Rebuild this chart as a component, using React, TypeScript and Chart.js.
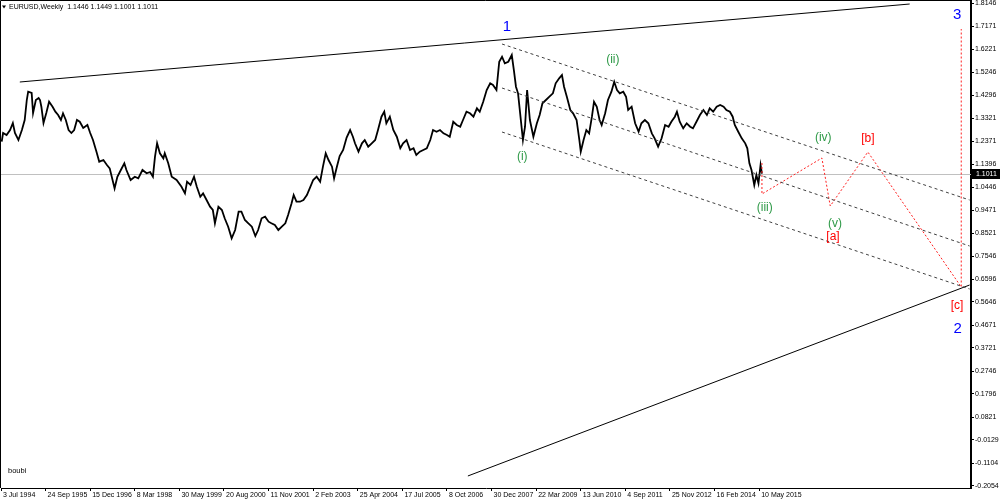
import React, { useEffect, useRef } from 'react';
import { Chart, registerables } from 'chart.js';

Chart.register(...registerables);

// ---------- header / meta ----------
const SYMBOL = 'EURUSD,Weekly';
const LAST_OHLC = [1.1446, 1.1449, 1.1001, 1.1011];
const AUTHOR = 'boubi';

// ---------- axes ----------
const X_MIN_WEEK = 0;
const X_MAX_WEEK = 1392;
const X_TICK_WEEKS = [0, 64, 128, 192, 256, 320, 384, 448, 512, 576, 640, 704, 768, 832, 896, 960, 1024, 1088];
const X_TICK_LABELS = [
  '3 Jul 1994', '24 Sep 1995', '15 Dec 1996', '8 Mar 1998', '30 May 1999', '20 Aug 2000',
  '11 Nov 2001', '2 Feb 2003', '25 Apr 2004', '17 Jul 2005', '8 Oct 2006', '30 Dec 2007',
  '22 Mar 2009', '13 Jun 2010', '4 Sep 2011', '25 Nov 2012', '16 Feb 2014', '10 May 2015',
];
const Y_MIN = -0.2138;
const Y_MAX = 1.823;
const Y_TICKS = [
  1.8146, 1.7171, 1.6221, 1.5246, 1.4296, 1.3321, 1.2371, 1.1396, 1.0446, 0.9471, 0.8521,
  0.7546, 0.6596, 0.5646, 0.4671, 0.3721, 0.2746, 0.1796, 0.0821, -0.0129, -0.1104, -0.2054,
];

// ---------- price series (weeks since 3 Jul 1994, price) ----------
const PRICE_WEEKS = [
  1, 3, 8, 13, 17, 20, 25, 30, 34, 37,
  39, 44, 46, 50, 54, 56, 58, 61, 65, 69,
  74, 78, 82, 86, 89, 93, 97, 101, 105, 109,
  113, 118, 124, 128, 132, 137, 141, 147, 152, 156,
  163, 167, 172, 177, 180, 186, 192, 197, 203, 209,
  214, 218, 221, 224, 228, 233, 235, 240, 245, 252,
  259, 264, 267, 272, 277, 281, 286, 290, 295, 300,
  304, 307, 312, 317, 321, 326, 331, 336, 341, 345,
  350, 355, 360, 365, 369, 374, 379, 384, 388, 393,
  398, 403, 408, 412, 417, 420, 424, 429, 434, 439,
  443, 448, 453, 458, 462, 466, 470, 475, 478, 482,
  486, 491, 496, 501, 505, 508, 513, 518, 522, 527,
  532, 537, 541, 546, 550, 553, 558, 563, 568, 573,
  577, 582, 587, 592, 596, 601, 606, 611, 616, 620,
  625, 630, 635, 640, 644, 649, 654, 659, 663, 668,
  673, 678, 683, 687, 692, 697, 702, 706, 711, 715,
  719, 723, 728, 733, 736, 739, 742, 745, 749, 752,
  755, 759, 764, 769, 773, 777, 782, 787, 792, 796,
  801, 805, 808, 812, 817, 821, 826, 830, 832, 836,
  840, 844, 848, 851, 855, 859, 862, 867, 871, 876,
  880, 884, 888, 893, 897, 900, 905, 910, 915, 919,
  924, 929, 934, 938, 943, 948, 953, 958, 962, 967,
  970, 974, 979, 984, 989, 993, 998, 1003, 1008, 1013,
  1017, 1022, 1027, 1032, 1037, 1041, 1046, 1050, 1053, 1058,
  1063, 1068, 1071, 1074, 1077, 1081, 1084, 1087, 1090, 1092,
];
const PRICE_CLOSE = [
  1.2345, 1.2709, 1.2625, 1.2834, 1.3127, 1.2709, 1.2416, 1.2834, 1.3253, 1.4089,
  1.4436, 1.4382, 1.3545, 1.4089, 1.4173, 1.4089, 1.3796, 1.3127, 1.3545, 1.4018,
  1.3809, 1.36, 1.3462, 1.3253, 1.3533, 1.3253, 1.2834, 1.2709, 1.2834, 1.3253,
  1.3181, 1.2918, 1.3043, 1.2709, 1.2416, 1.1927, 1.1509, 1.158, 1.1371, 1.1233,
  1.0396, 1.0881, 1.1162, 1.1442, 1.1162, 1.0743, 1.0881, 1.0814, 1.1162, 1.1024,
  1.1078, 1.0881, 1.1718, 1.2278, 1.186, 1.1651, 1.186, 1.1442, 1.0881, 1.0743,
  1.0463, 1.0187, 1.0672, 1.0534, 1.0881, 1.0463, 1.0045, 1.0187, 0.9907, 0.9627,
  0.9489, 0.8933, 0.9627, 0.9489, 0.9142, 0.879, 0.8305, 0.8652, 0.9418, 0.9418,
  0.9071, 0.8933, 0.879, 0.8401, 0.8652, 0.9142, 0.9209, 0.9, 0.8933, 0.8861,
  0.8652, 0.879, 0.8933, 0.928, 0.9769, 1.0116, 0.9836, 0.9836, 0.9907, 1.0116,
  1.0396, 1.0743, 1.0881, 1.0672, 1.13, 1.186, 1.158, 1.13, 1.0814, 1.13,
  1.1747, 1.1998, 1.2521, 1.2834, 1.2554, 1.2278, 1.1927, 1.2278, 1.2416, 1.2136,
  1.2278, 1.2416, 1.2834, 1.3391, 1.36, 1.3115, 1.3391, 1.2834, 1.2554, 1.2069,
  1.2278, 1.2416, 1.1998, 1.2069, 1.1789, 1.1927, 1.1998, 1.2069, 1.2416, 1.2834,
  1.2763, 1.2834, 1.2696, 1.2625, 1.2554, 1.3181, 1.3043, 1.2972, 1.3253, 1.36,
  1.3533, 1.3391, 1.3742, 1.36, 1.4018, 1.4507, 1.4787, 1.4716, 1.4507, 1.5691,
  1.59, 1.5624, 1.5691, 1.5971, 1.5344, 1.4645, 1.4369, 1.3533, 1.2416, 1.2972,
  1.4507, 1.3253, 1.2554, 1.3115, 1.3462, 1.3951, 1.4089, 1.4227, 1.4369, 1.4787,
  1.4997, 1.5134, 1.4645, 1.4227, 1.3671, 1.3533, 1.3253, 1.2416, 1.1927, 1.2416,
  1.2834, 1.2696, 1.3391, 1.4018, 1.3809, 1.3253, 1.3043, 1.3533, 1.4089, 1.4436,
  1.4854, 1.4507, 1.4369, 1.4436, 1.4227, 1.3671, 1.3809, 1.3115, 1.2763, 1.3115,
  1.3253, 1.3115, 1.2696, 1.2487, 1.2136, 1.2487, 1.3043, 1.2972, 1.3181, 1.3391,
  1.36, 1.3181, 1.2906, 1.3115, 1.2972, 1.2906, 1.3181, 1.3462, 1.3671, 1.3462,
  1.3742, 1.36, 1.3809, 1.388, 1.3809, 1.3671, 1.36, 1.3391, 1.3043, 1.2763,
  1.2487, 1.2278, 1.2069, 1.1442, 1.1162, 1.0534, 1.0952, 1.0605, 1.1371, 1.1011,
];

// ---------- drawn objects ----------
const TREND_TOP_WEEKS = [27, 1304];
const TREND_TOP_PRICES = [1.4842, 1.8104];
const TREND_BOTTOM_WEEKS = [670, 1390];
const TREND_BOTTOM_PRICES = [-0.1635, 0.6352];
const CHANNEL_WEEKS = [719, 1390];
const CHANNEL_UPPER = [1.6431, 0.9907];
const CHANNEL_MIDDLE = [1.4591, 0.7983];
const CHANNEL_LOWER = [1.2751, 0.6185];
const PROJ_WEEKS = [1092, 1092, 1178, 1190, 1244, 1378, 1378];
const PROJ_PRICES = [1.1454, 1.0158, 1.1663, 0.9656, 1.1914, 0.6269, 1.7058];

// ---------- wave labels ----------
const WAVE_LABELS = ['1', '2', '3', '(i)', '(ii)', '(iii)', '(iv)', '(v)', '[a]', '[b]', '[c]'];
const WAVE_DEGREES = ['primary', 'primary', 'primary', 'minor', 'minor', 'minor', 'minor', 'minor', 'minute', 'minute', 'minute'];
const WAVE_WEEKS = [726, 1373, 1372, 748, 878, 1096, 1180, 1197, 1194, 1244, 1372];
const WAVE_PRICES = [1.7142, 0.4512, 1.7644, 1.1705, 1.5762, 0.9572, 1.25, 0.8903, 0.836, 1.2458, 0.5474];

const DEGREE_STYLE: Record<string, { color: string; font: string }> = {
  primary: { color: '#0000ff', font: '15px "Liberation Sans", Arial, sans-serif' },
  minor: { color: '#2f9a48', font: '12px "Liberation Sans", Arial, sans-serif' },
  minute: { color: '#ff0000', font: '12px "Liberation Sans", Arial, sans-serif' },
};

const AXIS_FONT = { family: '"Liberation Sans", Arial, sans-serif', size: 7 };

function pts(weeks: number[], prices: number[]) {
  return weeks.map((w, i) => ({ x: w, y: prices[i] }));
}

export default function App() {
  const ref = useRef<HTMLCanvasElement>(null);

  useEffect(() => {
    const canvas = ref.current;
    if (!canvas) return;

    const overlay = {
      id: 'mt4overlay',
      beforeDatasetsDraw(chart: any) {
        const { ctx, chartArea, scales } = chart;
        const yp = Math.round(scales.y.getPixelForValue(LAST_OHLC[3])) + 0.5;
        ctx.save();
        ctx.strokeStyle = '#c0c0c0';
        ctx.lineWidth = 1;
        ctx.beginPath();
        ctx.moveTo(chartArea.left, yp);
        ctx.lineTo(chartArea.right, yp);
        ctx.stroke();
        ctx.restore();
      },
      afterDraw(chart: any) {
        const { ctx, chartArea, scales } = chart;
        ctx.save();
        // frame top/left
        ctx.strokeStyle = '#000';
        ctx.lineWidth = 1;
        ctx.beginPath();
        ctx.moveTo(0.5, chartArea.bottom);
        ctx.lineTo(0.5, 0.5);
        ctx.lineTo(chartArea.right, 0.5);
        ctx.stroke();

        // wave labels
        ctx.textAlign = 'center';
        ctx.textBaseline = 'middle';
        WAVE_LABELS.forEach((t, i) => {
          const st = DEGREE_STYLE[WAVE_DEGREES[i]];
          ctx.fillStyle = st.color;
          ctx.font = st.font;
          ctx.fillText(t, scales.x.getPixelForValue(WAVE_WEEKS[i]), scales.y.getPixelForValue(WAVE_PRICES[i]));
        });

        // header
        ctx.fillStyle = '#000';
        ctx.beginPath();
        ctx.moveTo(2, 5.5);
        ctx.lineTo(6, 5.5);
        ctx.lineTo(4, 8.5);
        ctx.closePath();
        ctx.fill();
        ctx.font = '7px "Liberation Sans", Arial, sans-serif';
        ctx.textAlign = 'left';
        ctx.textBaseline = 'middle';
        ctx.fillText(SYMBOL + '  ' + LAST_OHLC.map((v) => v.toFixed(4)).join(' '), 9, 7.5);

        // author
        ctx.font = '7.5px "Liberation Sans", Arial, sans-serif';
        ctx.fillText(AUTHOR, 8, 471);

        // last price box
        const yp = Math.round(scales.y.getPixelForValue(LAST_OHLC[3]));
        ctx.fillStyle = '#000';
        ctx.fillRect(chartArea.right + 1, yp - 5, 28, 10);
        ctx.fillStyle = '#fff';
        ctx.font = '7px "Liberation Sans", Arial, sans-serif';
        ctx.fillText(LAST_OHLC[3].toFixed(4), chartArea.right + 5, yp + 0.5);
        ctx.restore();
      },
    };

    const chart = new Chart(canvas, {
      type: 'line',
      data: {
        datasets: [
          { data: pts(CHANNEL_WEEKS, CHANNEL_UPPER), borderColor: '#404040', borderWidth: 1, borderDash: [3, 3] },
          { data: pts(CHANNEL_WEEKS, CHANNEL_MIDDLE), borderColor: '#404040', borderWidth: 1, borderDash: [3, 3] },
          { data: pts(CHANNEL_WEEKS, CHANNEL_LOWER), borderColor: '#404040', borderWidth: 1, borderDash: [3, 3] },
          { data: pts(PROJ_WEEKS, PROJ_PRICES), borderColor: '#ff2020', borderWidth: 1, borderDash: [2, 2] },
          { data: pts(TREND_TOP_WEEKS, TREND_TOP_PRICES), borderColor: '#000', borderWidth: 1 },
          { data: pts(TREND_BOTTOM_WEEKS, TREND_BOTTOM_PRICES), borderColor: '#000', borderWidth: 1 },
          { data: pts(PRICE_WEEKS, PRICE_CLOSE), borderColor: '#000', borderWidth: 1.8, borderJoinStyle: 'miter' },
        ],
      } as any,
      options: {
        responsive: false,
        animation: false,
        devicePixelRatio: 1,
        layout: { padding: { left: 1, top: 1, right: 0, bottom: 0 } },
        elements: { point: { radius: 0 }, line: { tension: 0 } },
        plugins: { legend: { display: false }, tooltip: { enabled: false }, title: { display: false } },
        scales: {
          x: {
            type: 'linear',
            position: 'bottom',
            min: X_MIN_WEEK,
            max: X_MAX_WEEK,
            afterBuildTicks: (s: any) => {
              s.ticks = X_TICK_WEEKS.map((v) => ({ value: v }));
            },
            afterFit: (s: any) => {
              s.height = 13;
              s.paddingLeft = 0;
              s.paddingRight = 0;
            },
            ticks: {
              autoSkip: false,
              maxRotation: 0,
              minRotation: 0,
              align: 'start',
              labelOffset: 2,
              padding: 0,
              color: '#000',
              font: AXIS_FONT,
              callback: (_v: any, i: number) => X_TICK_LABELS[i],
            },
            grid: { display: true, drawOnChartArea: false, drawTicks: true, tickLength: 3, color: '#000' },
            border: { display: true, color: '#000', width: 1 },
          },
          y: {
            type: 'linear',
            position: 'right',
            min: Y_MIN,
            max: Y_MAX,
            afterBuildTicks: (s: any) => {
              s.ticks = Y_TICKS.map((v) => ({ value: v }));
            },
            afterFit: (s: any) => {
              s.width = 29;
              s.paddingTop = 0;
              s.paddingBottom = 0;
            },
            ticks: {
              autoSkip: false,
              padding: 1,
              color: '#000',
              font: AXIS_FONT,
              callback: (v: any) => Number(v).toFixed(4),
            },
            grid: { display: true, drawOnChartArea: false, drawTicks: true, tickLength: 3, color: '#000' },
            border: { display: true, color: '#000', width: 2 },
          },
        },
      } as any,
      plugins: [overlay],
    });

    return () => chart.destroy();
  }, []);

  return (
    <div style={{ position: 'fixed', left: 0, top: 0, width: 1000, height: 501, background: '#fff' }}>
      <canvas ref={ref} width={1000} height={501} style={{ display: 'block' }} />
    </div>
  );
}
